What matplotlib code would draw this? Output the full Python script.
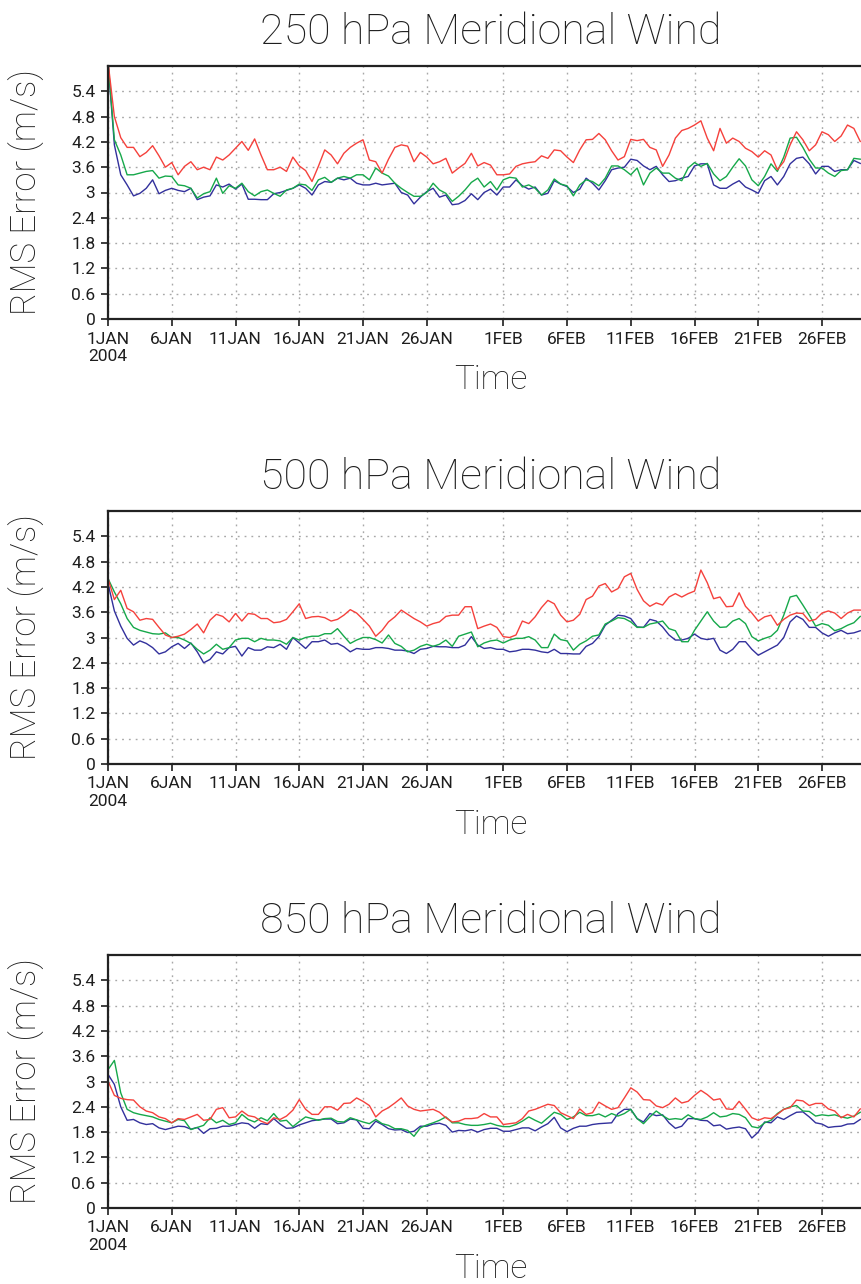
import numpy as np
import matplotlib
matplotlib.use('Agg')
import matplotlib.pyplot as plt

plt.rcParams['font.family'] = ['Roboto', 'DejaVu Sans']

# 12-hourly samples, days since 1 JAN 2004 00Z
days = np.arange(119) * 0.5

tick_days = [0, 5, 10, 15, 20, 25, 31, 36, 41, 46, 51, 56]
tick_labels = ['1JAN\n2004', '6JAN', '11JAN', '16JAN', '21JAN', '26JAN',
               '1FEB', '6FEB', '11FEB', '16FEB', '21FEB', '26FEB']
y_ticks = [0, 0.6, 1.2, 1.8, 2.4, 3, 3.6, 4.2, 4.8, 5.4]
y_labels = ['0', '0.6', '1.2', '1.8', '2.4', '3', '3.6', '4.2', '4.8', '5.4']

levels = ['250', '500', '850']

# ---- 250 hPa ----
red_250 = [6.1, 4.8, 4.3, 4.07, 4.07, 3.85, 3.95, 4.11, 3.87, 3.6,
           3.71, 3.42, 3.62, 3.73, 3.54, 3.6, 3.54, 3.84, 3.77, 3.89,
           4.05, 4.21, 4.0, 4.27, 3.89, 3.54, 3.54, 3.6, 3.5, 3.84,
           3.63, 3.52, 3.26, 3.62, 4.01, 3.89, 3.68, 3.93, 4.07, 4.17,
           4.25, 3.77, 3.73, 3.46, 3.79, 4.07, 4.13, 4.1, 3.73, 3.95,
           3.84, 3.68, 3.73, 3.81, 3.46, 3.58, 3.69, 3.93, 3.63, 3.71,
           3.65, 3.42, 3.42, 3.44, 3.62, 3.68, 3.71, 3.73, 3.87, 3.81,
           4.01, 3.99, 3.84, 3.71, 4.01, 4.25, 4.26, 4.4, 4.25, 3.99,
           3.77, 3.85, 4.26, 4.23, 4.26, 4.07, 4.01, 3.62, 3.89, 4.29,
           4.47, 4.52, 4.6, 4.7, 4.29, 3.99, 4.52, 4.17, 4.29, 4.21,
           4.05, 3.97, 3.84, 3.99, 3.89, 3.54, 3.73, 4.13, 4.44, 4.25,
           3.99, 4.13, 4.44, 4.37, 4.21, 4.34, 4.6, 4.52, 4.21]
green_250 = [6.1, 4.25, 3.89, 3.42, 3.42, 3.46, 3.5, 3.52, 3.34, 3.39,
             3.38, 3.18, 3.16, 3.1, 2.87, 2.97, 3.02, 3.34, 2.98, 3.16,
             3.1, 3.22, 3.02, 2.92, 3.02, 3.06, 2.98, 2.91, 3.06, 3.1,
             3.2, 3.18, 3.05, 3.3, 3.36, 3.24, 3.34, 3.38, 3.34, 3.42,
             3.42, 3.3, 3.58, 3.46, 3.39, 3.22, 3.1, 3.0, 2.91, 2.91,
             3.0, 3.22, 3.06, 2.98, 2.79, 2.91, 3.06, 3.24, 3.34, 3.13,
             3.26, 3.06, 3.3, 3.36, 3.34, 3.13, 3.18, 3.1, 2.94, 3.06,
             3.32, 3.2, 3.16, 2.92, 3.18, 3.3, 3.26, 3.16, 3.34, 3.63,
             3.63, 3.54, 3.42, 3.58, 3.18, 3.46, 3.58, 3.46, 3.46, 3.34,
             3.28, 3.58, 3.71, 3.62, 3.69, 3.44, 3.28, 3.38, 3.6, 3.8,
             3.63, 3.3, 3.16, 3.38, 3.68, 3.5, 3.84, 4.29, 4.31, 4.07,
             3.79, 3.58, 3.58, 3.46, 3.38, 3.52, 3.54, 3.81, 3.79]
blue_250 = [6.1, 4.13, 3.42, 3.18, 2.92, 2.98, 3.1, 3.3, 2.97, 3.05,
            3.1, 3.05, 3.02, 3.1, 2.83, 2.89, 2.92, 3.18, 3.13, 3.2,
            3.08, 3.2, 2.84, 2.84, 2.83, 2.83, 2.97, 3.0, 3.05, 3.1,
            3.18, 3.1, 2.94, 3.18, 3.26, 3.24, 3.34, 3.3, 3.34, 3.22,
            3.18, 3.18, 3.22, 3.18, 3.2, 3.22, 3.0, 2.94, 2.73, 2.89,
            3.02, 3.1, 2.89, 2.94, 2.71, 2.73, 2.81, 2.97, 2.83, 3.0,
            3.08, 2.94, 3.13, 3.13, 3.3, 3.16, 3.08, 3.13, 2.94, 2.98,
            3.28, 3.2, 3.14, 3.0, 3.08, 3.34, 3.22, 3.06, 3.28, 3.54,
            3.58, 3.6, 3.79, 3.76, 3.63, 3.54, 3.62, 3.42, 3.26, 3.28,
            3.34, 3.38, 3.63, 3.68, 3.68, 3.18, 3.1, 3.1, 3.2, 3.28,
            3.13, 3.06, 2.98, 3.28, 3.38, 3.18, 3.38, 3.68, 3.81, 3.84,
            3.68, 3.44, 3.62, 3.62, 3.5, 3.54, 3.54, 3.76, 3.69]

# ---- 500 hPa ----
red_500 = [4.4, 3.9, 4.12, 3.69, 3.61, 3.41, 3.45, 3.43, 3.24, 3.06,
           3.0, 3.03, 3.08, 3.19, 3.32, 3.11, 3.41, 3.55, 3.5, 3.37,
           3.57, 3.39, 3.57, 3.55, 3.45, 3.45, 3.35, 3.37, 3.43, 3.61,
           3.8, 3.45, 3.49, 3.5, 3.47, 3.39, 3.43, 3.53, 3.66, 3.58,
           3.43, 3.27, 3.03, 3.17, 3.37, 3.49, 3.65, 3.55, 3.45, 3.37,
           3.27, 3.33, 3.37, 3.5, 3.53, 3.53, 3.73, 3.73, 3.21, 3.27,
           3.32, 3.24, 3.02, 3.0, 3.06, 3.39, 3.33, 3.49, 3.71, 3.88,
           3.8, 3.53, 3.37, 3.41, 3.55, 3.9, 3.98, 4.22, 4.28, 4.08,
           4.16, 4.44, 4.52, 4.14, 3.87, 3.74, 3.82, 3.77, 3.96, 4.04,
           3.96, 4.04, 4.1, 4.6, 4.3, 3.92, 3.96, 3.73, 3.74, 4.06,
           3.74, 3.58, 3.39, 3.49, 3.53, 3.29, 3.43, 3.53, 3.58, 3.57,
           3.39, 3.43, 3.58, 3.63, 3.58, 3.45, 3.58, 3.65, 3.65]
green_500 = [4.4, 4.08, 3.8, 3.45, 3.24, 3.17, 3.13, 3.09, 3.08, 3.11,
             3.0, 3.0, 2.94, 2.86, 2.72, 2.61, 2.7, 2.84, 2.72, 2.76,
             2.94, 2.98, 2.98, 2.9, 2.98, 2.94, 2.94, 2.92, 2.84, 3.0,
             2.94, 3.0, 3.03, 3.03, 3.09, 3.09, 3.21, 3.03, 2.86, 2.94,
             3.0, 3.0, 2.95, 2.87, 3.06, 2.86, 2.79, 2.66, 2.7, 2.79,
             2.84, 2.79, 2.84, 2.94, 2.79, 3.03, 3.08, 3.13, 2.78, 2.87,
             2.92, 2.94, 2.87, 2.94, 2.98, 2.98, 3.02, 2.94, 2.76, 2.76,
             3.08, 2.95, 2.92, 2.7, 2.84, 2.92, 3.03, 3.06, 3.32, 3.39,
             3.47, 3.45, 3.37, 3.24, 3.24, 3.32, 3.35, 3.39, 3.21, 3.16,
             2.9, 2.9, 3.17, 3.39, 3.61, 3.39, 3.24, 3.25, 3.39, 3.45,
             3.33, 3.02, 2.92, 2.98, 3.03, 3.17, 3.53, 3.96, 4.0, 3.77,
             3.53, 3.27, 3.33, 3.29, 3.16, 3.21, 3.29, 3.35, 3.5]
blue_500 = [4.28, 3.63, 3.27, 2.98, 2.82, 2.92, 2.86, 2.76, 2.61, 2.66,
            2.78, 2.86, 2.74, 2.87, 2.66, 2.4, 2.48, 2.66, 2.61, 2.76,
            2.79, 2.56, 2.76, 2.7, 2.7, 2.78, 2.76, 2.84, 2.72, 3.0,
            2.87, 2.74, 2.9, 2.9, 2.94, 2.84, 2.86, 2.78, 2.66, 2.74,
            2.72, 2.72, 2.76, 2.76, 2.74, 2.7, 2.7, 2.68, 2.62, 2.72,
            2.74, 2.79, 2.78, 2.78, 2.76, 2.76, 2.82, 3.02, 2.82, 2.74,
            2.76, 2.72, 2.72, 2.66, 2.68, 2.72, 2.72, 2.7, 2.66, 2.64,
            2.72, 2.62, 2.62, 2.61, 2.61, 2.79, 2.86, 3.02, 3.29, 3.41,
            3.53, 3.51, 3.45, 3.25, 3.24, 3.43, 3.39, 3.25, 3.06, 2.94,
            2.94, 2.98, 3.08, 2.98, 2.95, 2.98, 2.7, 2.62, 2.72, 2.9,
            2.9, 2.72, 2.58, 2.66, 2.74, 2.82, 3.0, 3.37, 3.51, 3.43,
            3.24, 3.24, 3.11, 3.03, 3.11, 3.17, 3.09, 3.11, 3.16]

# ---- 850 hPa ----
red_850 = [3.01, 2.67, 2.6, 2.57, 2.56, 2.4, 2.3, 2.26, 2.16, 2.12,
           2.02, 2.12, 2.1, 2.16, 2.22, 2.08, 2.1, 2.34, 2.38, 2.14,
           2.16, 2.3, 2.19, 2.16, 2.06, 2.0, 2.14, 2.1, 2.18, 2.32,
           2.57, 2.34, 2.22, 2.22, 2.4, 2.4, 2.32, 2.48, 2.49, 2.61,
           2.53, 2.43, 2.16, 2.3, 2.38, 2.49, 2.61, 2.42, 2.34, 2.3,
           2.32, 2.34, 2.27, 2.14, 2.04, 2.06, 2.12, 2.12, 2.14, 2.24,
           2.16, 2.16, 1.98, 2.0, 2.02, 2.12, 2.3, 2.34, 2.4, 2.46,
           2.43, 2.26, 2.19, 2.12, 2.35, 2.22, 2.26, 2.51, 2.42, 2.34,
           2.38, 2.61, 2.85, 2.75, 2.57, 2.56, 2.42, 2.38, 2.46, 2.61,
           2.49, 2.53, 2.67, 2.79, 2.69, 2.56, 2.59, 2.35, 2.34, 2.53,
           2.34, 2.14, 2.08, 2.14, 2.12, 2.22, 2.34, 2.38, 2.56, 2.54,
           2.43, 2.48, 2.48, 2.35, 2.3, 2.14, 2.22, 2.16, 2.35]
green_850 = [3.28, 3.5, 2.73, 2.34, 2.26, 2.22, 2.19, 2.16, 2.1, 2.06,
             2.02, 2.1, 2.07, 1.86, 1.91, 1.96, 2.14, 2.02, 2.08, 1.98,
             2.02, 2.22, 2.1, 2.04, 2.14, 2.07, 2.24, 2.06, 2.08, 1.93,
             2.05, 2.16, 2.12, 2.08, 2.12, 2.13, 2.05, 2.04, 2.14, 2.09,
             2.04, 2.0, 2.1, 2.0, 1.96, 1.88, 1.88, 1.84, 1.7, 1.9,
             1.97, 2.02, 2.08, 2.16, 2.02, 2.02, 1.98, 1.96, 1.96, 1.98,
             2.01, 1.96, 1.93, 1.93, 1.98, 2.06, 2.16, 2.08, 2.01, 2.14,
             2.27, 2.22, 2.1, 2.16, 2.27, 2.19, 2.19, 2.23, 2.16, 2.24,
             2.18, 2.24, 2.34, 2.12, 2.0, 2.16, 2.3, 2.19, 2.1, 2.12,
             2.1, 2.21, 2.12, 2.1, 2.16, 2.26, 2.16, 2.18, 2.24, 2.22,
             2.14, 1.93, 1.9, 2.02, 2.08, 2.24, 2.34, 2.4, 2.43, 2.3,
             2.29, 2.18, 2.21, 2.19, 2.21, 2.16, 2.13, 2.18, 2.27]
blue_850 = [3.17, 2.93, 2.4, 2.08, 2.1, 2.02, 1.98, 2.0, 1.9, 1.86,
            1.9, 1.94, 1.93, 1.87, 1.91, 1.77, 1.88, 1.89, 1.94, 1.94,
            1.98, 2.02, 2.0, 1.89, 2.0, 1.98, 2.12, 1.99, 1.89, 1.9,
            1.97, 2.02, 2.07, 2.09, 2.11, 2.11, 2.0, 2.02, 2.11, 2.09,
            1.89, 1.88, 2.06, 1.98, 1.88, 1.85, 1.86, 1.79, 1.82, 1.94,
            1.94, 1.99, 2.01, 1.96, 1.8, 1.84, 1.83, 1.86, 1.8, 1.86,
            1.89, 1.89, 1.82, 1.82, 1.86, 1.9, 1.9, 1.83, 1.92, 2.0,
            2.15, 1.9, 1.81, 1.89, 1.94, 1.94, 1.98, 2.0, 2.01, 2.02,
            2.24, 2.34, 2.34, 2.12, 2.04, 2.24, 2.19, 2.21, 2.02, 1.89,
            1.94, 2.12, 2.12, 2.08, 2.07, 1.95, 1.97, 1.87, 1.9, 1.92,
            1.88, 1.66, 1.8, 2.04, 2.02, 2.16, 2.1, 2.19, 2.27, 2.28,
            2.16, 2.02, 1.99, 1.91, 1.93, 1.94, 1.99, 2.0, 2.1]

reds = [red_250, red_500, red_850]
greens = [green_250, green_500, green_850]
blues = [blue_250, blue_500, blue_850]

c_red = '#f5413c'
c_green = '#16a84a'
c_blue = '#32309c'
txt = '#1e1e1e'

W, H = 862, 1284
fig = plt.figure(figsize=(W / 100, H / 100), dpi=100)

tops = [66, 511, 955]   # pixel row of each panel's top frame
ax_h = 253
ax_left = 108
ax_w = 765

for i, lvl in enumerate(levels):
    ax = fig.add_axes([ax_left / W, 1 - (tops[i] + ax_h) / H, ax_w / W, ax_h / H])
    ax.plot(days, blues[i], color=c_blue, lw=1.0)
    ax.plot(days, greens[i], color=c_green, lw=1.0)
    ax.plot(days, reds[i], color=c_red, lw=1.0)

    ax.set_xlim(0, 60)
    ax.set_ylim(0, 6)
    ax.set_xticks(tick_days)
    ax.set_xticklabels(tick_labels)
    ax.set_yticks(y_ticks)
    ax.set_yticklabels(y_labels)
    ax.tick_params(direction='out', length=5, width=1.2, pad=4,
                   labelsize=12.5, colors=txt)
    ax.grid(True, color='#a8a8a8', linestyle=(0, (1.3, 3.6)), linewidth=1.0)
    for s in ax.spines.values():
        s.set_linewidth(1.6)
        s.set_color('#222222')

    ax.set_title(lvl + ' hPa Meridional Wind', fontsize=31, fontweight='light',
                 pad=16, color=txt)
    ax.text(0.5, -0.278, 'Time', transform=ax.transAxes, ha='center',
            va='baseline', fontsize=24, fontweight='light', color=txt)
    ax.text(-0.106, 0.5, 'RMS Error (m/s)', transform=ax.transAxes, rotation=90,
            ha='center', va='center', fontsize=25, fontweight='light', color=txt)

plt.savefig('out.png', dpi=100)
